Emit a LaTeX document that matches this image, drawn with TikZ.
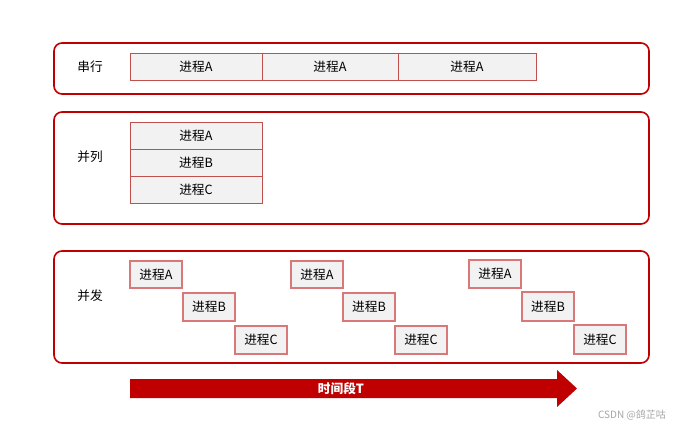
\documentclass[tikz,border=0pt]{standalone}
\usepackage{fontspec}
\setmainfont{Noto Sans CJK SC}
\definecolor{darkred}{HTML}{C00000}
\definecolor{cellred}{HTML}{C0504D}
\definecolor{softred}{HTML}{D87878}
\definecolor{cellfill}{HTML}{F2F2F2}
\begin{document}
\begin{tikzpicture}[x=0.75pt,y=-0.75pt,
  outer/.style={draw=darkred,line width=1.2pt,rounded corners=6pt,fill=white},
  cell/.style={draw=cellred,line width=0.6pt,fill=cellfill},
  ccell/.style={draw=softred,line width=1.1pt,fill=cellfill},
  txt/.style={font=\fontsize{9.5}{10}\selectfont,inner sep=0pt},
  lbl/.style={font=\fontsize{9.5}{10}\selectfont,inner sep=0pt}]
\useasboundingbox (0,0) rectangle (682,430);
\fill[white] (0,0) rectangle (682,430);
% outer boxes
\draw[outer] (54,43) rectangle (649,94);
\draw[outer] (54,112) rectangle (649,224);
\draw[outer] (54,251) rectangle (649,363);
\node[lbl] (l1) at (90,67) {串行};
\node[lbl] (l2) at (90,157) {并列};
\node[lbl] (l3) at (90,296) {并发};
% serial
\draw[cell] (130,53) rectangle (262,80) node[midway,txt] (s1) {进程A};
\draw[cell] (262,53) rectangle (398,80) node[midway,txt] (s2) {进程A};
\draw[cell] (398,53) rectangle (536,80) node[midway,txt] (s3) {进程A};
% parallel
\draw[cell] (130,122) rectangle (262,149) node[midway,txt] (p1) {进程A};
\draw[cell] (130,149) rectangle (262,176) node[midway,txt] (p2) {进程B};
\draw[cell] (130,176) rectangle (262,203) node[midway,txt] (p3) {进程C};
% concurrent
\draw[ccell] (130,261) rectangle (182,288) node[midway,txt] (c1a) {进程A};
\draw[ccell] (183,293) rectangle (235,321) node[midway,txt] (c1b) {进程B};
\draw[ccell] (235,326) rectangle (287,354) node[midway,txt] (c1c) {进程C};
\draw[ccell] (291,261) rectangle (343,288) node[midway,txt] (c2a) {进程A};
\draw[ccell] (343,293) rectangle (395,321) node[midway,txt] (c2b) {进程B};
\draw[ccell] (395,326) rectangle (447,354) node[midway,txt] (c2c) {进程C};
\draw[ccell] (469,260) rectangle (521,288) node[midway,txt] (c3a) {进程A};
\draw[ccell] (522,292) rectangle (574,321) node[midway,txt] (c3b) {进程B};
\draw[ccell] (574,325) rectangle (626,354) node[midway,txt] (c3c) {进程C};
% time arrow
\fill[darkred] (130,379) -- (557,379) -- (557,370) -- (577,388.5) -- (557,407) -- (557,398) -- (130,398) -- cycle;
\node[font=\fontsize{9.5}{10}\selectfont\bfseries,text=white,inner sep=0pt] (t) at (341,388.5) {时间段T};
% watermark
\node[font=\fontsize{7.5}{9}\selectfont,text=black!35,inner sep=0pt] (wm) at (632,415) {CSDN @鸽芷咕};
\end{tikzpicture}
\end{document}
